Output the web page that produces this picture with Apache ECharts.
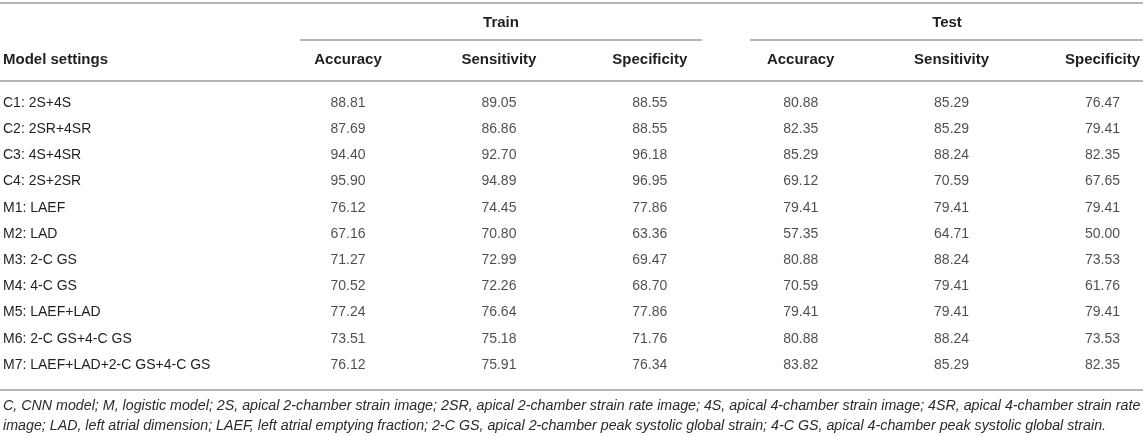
<!DOCTYPE html>
<html>
<head>
<meta charset="utf-8">
<script src="https://cdn.jsdelivr.net/npm/echarts@6/dist/echarts.min.js"></script>
<style>
html,body{margin:0;padding:0;background:#fff;}
#chart{width:1143px;height:436px;}
</style>
</head>
<body>
<div id="chart"></div>
<script>
var modelSettings = ['C1: 2S+4S','C2: 2SR+4SR','C3: 4S+4SR','C4: 2S+2SR','M1: LAEF','M2: LAD','M3: 2-C GS','M4: 4-C GS','M5: LAEF+LAD','M6: 2-C GS+4-C GS','M7: LAEF+LAD+2-C GS+4-C GS'];
var columnKeys = ['trainAcc','trainSens','trainSpec','testAcc','testSens','testSpec'];
var columnLabels = ['Accuracy','Sensitivity','Specificity','Accuracy','Sensitivity','Specificity'];
var groupLabels = ['Train','Test'];
var trainAccuracy    = [88.81,87.69,94.40,95.90,76.12,67.16,71.27,70.52,77.24,73.51,76.12];
var trainSensitivity = [89.05,86.86,92.70,94.89,74.45,70.80,72.99,72.26,76.64,75.18,75.91];
var trainSpecificity = [88.55,88.55,96.18,96.95,77.86,63.36,69.47,68.70,77.86,71.76,76.34];
var testAccuracy     = [80.88,82.35,85.29,69.12,79.41,57.35,80.88,70.59,79.41,80.88,83.82];
var testSensitivity  = [85.29,85.29,88.24,70.59,79.41,64.71,88.24,79.41,79.41,88.24,85.29];
var testSpecificity  = [76.47,79.41,82.35,67.65,79.41,50.00,73.53,61.76,79.41,73.53,82.35];
var firstHeader = 'Model settings';
var footnoteLines = [
 'C, CNN model; M, logistic model; 2S, apical 2-chamber strain image; 2SR, apical 2-chamber strain rate image; 4S, apical 4-chamber strain image; 4SR, apical 4-chamber strain rate',
 'image; LAD, left atrial dimension; LAEF, left atrial emptying fraction; 2-C GS, apical 2-chamber peak systolic global strain; 4-C GS, apical 4-chamber peak systolic global strain.'
];

var columns = [trainAccuracy,trainSensitivity,trainSpecificity,testAccuracy,testSensitivity,testSpecificity];
var FONT = '"Liberation Sans", Arial, Helvetica, sans-serif';
var TXT = '#1f1f1f';
var LINE = '#b5b5b5';

var chart = echarts.init(document.getElementById('chart'), null, {renderer:'canvas'});

var series = columns.map(function(vals, c){
  return {
    type:'scatter',
    symbol:'circle',
    symbolSize:0,
    silent:true,
    itemStyle:{color:'transparent'},
    label:{show:true, position:'inside', color:TXT, fontFamily:FONT, fontSize:14,
      formatter:function(p){ return p.value[2].toFixed(2); }},
    data: vals.map(function(v, r){ return [columnKeys[c], modelSettings[r], v]; })
  };
});

function hline(x1,x2,y){
  return {type:'line', shape:{x1:x1,y1:y,x2:x2,y2:y}, style:{stroke:LINE, lineWidth:1.8}, silent:true};
}
function txt(x,y,t,opt){
  return {type:'text', x:x, y:y, silent:true, style:Object.assign({text:t, fill:TXT, font:'14px '+FONT, textVerticalAlign:'middle'}, opt||{})};
}

var graphics = [
  hline(0,1143,3),
  hline(300,702,40),
  hline(750,1143,40),
  hline(0,1143,81),
  hline(0,1143,390),
  txt(501,23,groupLabels[0],{font:'bold 15px '+FONT, textAlign:'center'}),
  txt(947,23,groupLabels[1],{font:'bold 15px '+FONT, textAlign:'center'}),
  txt(3,60,firstHeader,{font:'bold 15px '+FONT, textAlign:'left'}),
  txt(3,406,footnoteLines[0],{font:'italic 14.25px '+FONT, textAlign:'left', fill:'#2a2a2a'}),
  txt(3,426,footnoteLines[1],{font:'italic 14.25px '+FONT, textAlign:'left', fill:'#2a2a2a'})
];

chart.setOption({
  animation:false,
  backgroundColor:'#fff',
  grid:{left:348, right:40, top:89.9, bottom:57.9, containLabel:false},
  xAxis:{
    type:'category', position:'top', boundaryGap:false,
    data:columnKeys,
    axisLine:{show:false}, axisTick:{show:false}, splitLine:{show:false},
    axisLabel:{show:true, interval:0, margin:30, verticalAlign:'middle', color:TXT,
      fontFamily:FONT, fontWeight:'bold', fontSize:15,
      formatter:function(v, i){ return columnLabels[i]; }}
  },
  yAxis:{
    type:'category', inverse:true, data:modelSettings,
    axisLine:{show:false}, axisTick:{show:false}, splitLine:{show:false},
    axisLabel:{show:true, interval:0, margin:345, align:'left', color:TXT, fontFamily:FONT, fontSize:14}
  },
  series:series,
  graphic:graphics
});
</script>
</body>
</html>
